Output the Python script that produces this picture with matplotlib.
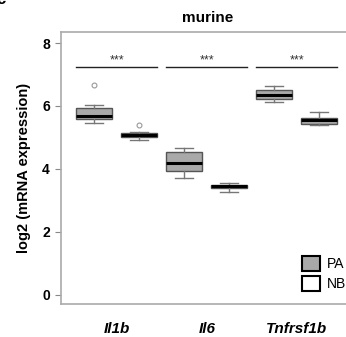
import matplotlib.pyplot as plt
from matplotlib.patches import Patch

plt.rcParams['font.family'] = ['Liberation Sans', 'DejaVu Sans']

# gene groups and the two conditions
genes = ['Il1b', 'Il6', 'Tnfrsf1b']
groups = ['PA', 'NB']

# box statistics (PA, NB for each gene)
whislo = [5.45, 4.93, 3.72, 3.26, 6.12, 5.41]
q1 = [5.58, 5.02, 3.95, 3.39, 6.22, 5.43]
med = [5.68, 5.09, 4.18, 3.45, 6.35, 5.54]
q3 = [5.95, 5.15, 4.55, 3.50, 6.51, 5.61]
whishi = [6.03, 5.16, 4.66, 3.55, 6.62, 5.82]
fliers = [[6.67], [5.40], [], [], [], []]
stars = ['***', '***', '***']

positions = [1, 2, 3, 4, 5, 6]

fig = plt.figure(figsize=(3.46, 3.37), dpi=100)
ax = fig.add_axes([0.176, 0.098, 0.851, 0.807])

stats = []
for i in range(len(med)):
    stats.append(dict(med=med[i], q1=q1[i], q3=q3[i], whislo=whislo[i],
                      whishi=whishi[i], fliers=fliers[i]))

ax.bxp(stats, positions=positions, widths=0.8, patch_artist=True,
       boxprops=dict(facecolor='#a9a9a9', edgecolor='#555555', linewidth=1.0),
       medianprops=dict(color='black', linewidth=2.2),
       whiskerprops=dict(color='#777777', linewidth=1.0),
       capprops=dict(color='#777777', linewidth=1.0), capwidths=0.4,
       flierprops=dict(marker='o', markerfacecolor='none',
                       markeredgecolor='#999999', markersize=3.5, markeredgewidth=0.8))

# significance bars
for i, s in enumerate(stars):
    left = positions[2 * i] - 0.4
    right = positions[2 * i + 1] + 0.4
    ax.plot([left, right], [7.24, 7.24], color='#222222', linewidth=1.0)
    ax.text((left + right) / 2, 7.45, s, ha='center', va='center',
            fontsize=9, color='#333333')

ax.set_xlim(0.26, 6.8)
ax.set_ylim(-0.29, 8.35)
ax.set_yticks([0, 2, 4, 6, 8])
ax.set_yticklabels(['0', '2', '4', '6', '8'], fontweight='bold', fontsize=10)
ax.set_xticks([1.5, 3.5, 5.5])
ax.set_xticklabels(genes, fontweight='bold', fontstyle='italic', fontsize=11)
ax.tick_params(axis='x', length=0, pad=13)
ax.tick_params(axis='y', length=4, color='#888888', width=0.8, pad=4)
for sp in ax.spines.values():
    sp.set_color('#aaaaaa')
    sp.set_linewidth(1.2)
ax.spines['right'].set_visible(False)

ax.set_ylabel('log2 (mRNA expression)', fontweight='bold', fontsize=10.5, labelpad=8)
ax.set_title('murine', fontweight='bold', fontsize=11, pad=7)

handles = [Patch(facecolor='#a9a9a9', edgecolor='black', linewidth=1.5),
           Patch(facecolor='white', edgecolor='black', linewidth=1.5)]
fig.legend(handles, groups, loc='upper left', bbox_to_anchor=(0.873, 0.24),
           frameon=False, fontsize=10, handlelength=1.3, handleheight=1.3,
           handletextpad=0.5, labelspacing=0.3, borderpad=0, borderaxespad=0)

fig.text(-0.01, 1.0, 'c', fontsize=12, fontweight='bold', ha='left', va='center')

fig.savefig('out.png', dpi=100)
